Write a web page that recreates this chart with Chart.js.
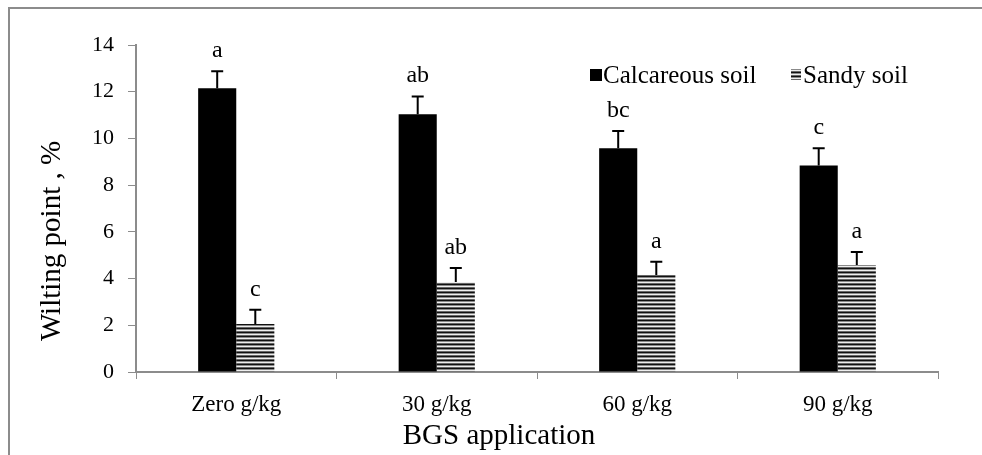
<!DOCTYPE html>
<html>
<head>
<meta charset="utf-8">
<script src="https://cdn.jsdelivr.net/npm/chart.js@4"></script>
<style>
html,body{margin:0;padding:0;background:#fff;}
#wrap{width:982px;height:455px;position:relative;}
</style>
</head>
<body>
<div id="wrap"><canvas id="c"></canvas></div>
<script>
const categories = ['Zero g/kg', '30 g/kg', '60 g/kg', '90 g/kg'];
const seriesNames = ['Calcareous soil', 'Sandy soil'];
const calcareous = [12.15, 11.03, 9.58, 8.84];
const sandy = [2.06, 3.85, 4.15, 4.58];
const calcareousErr = [0.73, 0.77, 0.74, 0.74];
const sandyErr = [0.6, 0.6, 0.57, 0.56];
const calcareousLetters = ['a', 'ab', 'bc', 'c'];
const sandyLetters = ['c', 'ab', 'a', 'a'];
const yTicks = [0, 2, 4, 6, 8, 10, 12, 14];
const xTitle = 'BGS application';
const yTitle = 'Wilting point , %';

const SERIF = '"Liberation Serif", "Times New Roman", serif';

function makeHatch() {
  const p = document.createElement('canvas');
  p.width = 8; p.height = 4;
  const g = p.getContext('2d');
  const rows = ['#111111', '#8a8a8a', '#eeeeee', '#666666'];
  rows.forEach((c, i) => { g.fillStyle = c; g.fillRect(0, i, 8, 1); });
  return g.createPattern(p, 'repeat');
}
const ctx = document.getElementById('c').getContext('2d');
const hatch = makeHatch();

const extras = {
  id: 'extras',
  afterDraw(chart) {
    const c = chart.ctx;
    const y = chart.scales.y;
    c.save();
    c.strokeStyle = '#8c8c8c';
    c.lineWidth = 2;
    c.beginPath();
    c.moveTo(9, 455); c.lineTo(9, 8); c.lineTo(990, 8);
    c.stroke();
    const errs = [calcareousErr, sandyErr];
    const vals = [calcareous, sandy];
    const letters = [calcareousLetters, sandyLetters];
    for (let d = 0; d < 2; d++) {
      const meta = chart.getDatasetMeta(d);
      meta.data.forEach((bar, i) => {
        const top = y.getPixelForValue(vals[d][i] + errs[d][i]);
        const base = y.getPixelForValue(vals[d][i]);
        c.strokeStyle = '#000';
        c.lineWidth = 2;
        c.beginPath();
        c.moveTo(bar.x, base); c.lineTo(bar.x, top);
        c.moveTo(bar.x - 6, top); c.lineTo(bar.x + 6, top);
        c.stroke();
        c.fillStyle = '#000';
        c.font = '24px ' + SERIF;
        c.textAlign = 'center';
        c.textBaseline = 'alphabetic';
        c.fillText(letters[d][i], bar.x, top - 14);
      });
    }
    // legend
    c.font = '25px ' + SERIF;
    c.textAlign = 'left';
    c.textBaseline = 'middle';
    const ly = 75;
    c.fillStyle = '#000';
    c.fillRect(590, ly - 6, 12, 12);
    c.fillText(seriesNames[0], 603, ly + 1);
    c.fillStyle = hatch;
    c.fillRect(791, ly - 6, 10, 11);
    c.fillStyle = '#000';
    c.fillText(seriesNames[1], 803, ly + 1);
    // axis titles
    c.font = '29px ' + SERIF;
    c.textAlign = 'center';
    c.textBaseline = 'middle';
    c.fillText(xTitle, 499, 436);
    c.save();
    c.translate(52, 241);
    c.rotate(-Math.PI / 2);
    c.fillText(yTitle, 0, 0);
    c.restore();
    c.restore();
  }
};

new Chart(ctx, {
  type: 'bar',
  data: {
    labels: categories,
    datasets: [
      { label: seriesNames[0], data: calcareous, backgroundColor: '#000', borderWidth: 0,
        categoryPercentage: 0.38, barPercentage: 1.0 },
      { label: seriesNames[1], data: sandy, backgroundColor: hatch, borderWidth: 0,
        categoryPercentage: 0.38, barPercentage: 1.0 }
    ]
  },
  options: {
    responsive: true,
    maintainAspectRatio: false,
    animation: false,
    layout: { padding: { left: 0, top: 45, right: 44, bottom: 0 } },
    plugins: { legend: { display: false }, tooltip: { enabled: false } },
    scales: {
      x: {
        grid: { display: true, drawOnChartArea: false, drawTicks: true, tickLength: 7, color: '#8c8c8c', offset: true },
        border: { display: true, color: '#8c8c8c', width: 2 },
        ticks: { color: '#000', font: { family: SERIF, size: 23 }, padding: 12 },
        title: { display: false },
        afterFit(scale) { scale.height = 83; }
      },
      y: {
        min: 0, max: 14,
        afterBuildTicks(scale) { scale.ticks = yTicks.map(v => ({ value: v })); },
        grid: { display: true, drawOnChartArea: false, drawTicks: true, tickLength: 8, color: '#8c8c8c' },
        border: { display: true, color: '#8c8c8c', width: 2 },
        ticks: { color: '#000', font: { family: SERIF, size: 22 }, padding: 14 },
        title: { display: false },
        afterFit(scale) { scale.width = 136; }
      }
    }
  },
  plugins: [extras]
});
</script>
</body>
</html>
